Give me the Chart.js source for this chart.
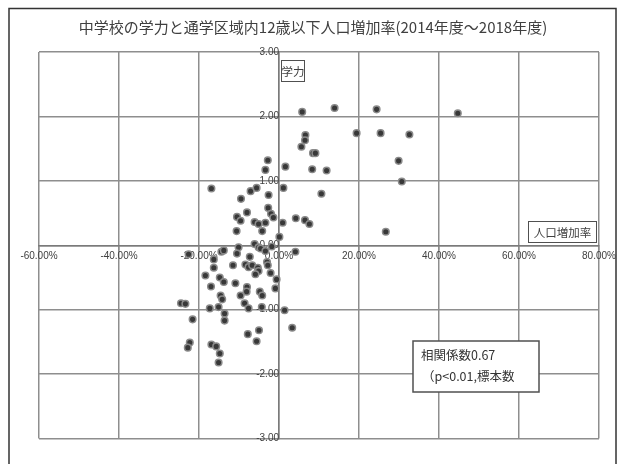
<!DOCTYPE html>
<html>
<head>
<meta charset="utf-8">
<script src="https://cdn.jsdelivr.net/npm/chart.js@4.4.1/dist/chart.umd.min.js"></script>
<style>
  html, body { margin: 0; padding: 0; background: #ffffff; }
  canvas { display: block; }
</style>
</head>
<body>
<canvas id="chart" width="625" height="464"></canvas>
<script>
// 人口増加率 (%), 2014年度→2018年度, per school district
const growthRate = [
  5.8, 13.9, 24.4, 44.7, 19.4, 25.4, 32.6, 6.6, 6.5, 5.6, 8.5, 9.1, 29.9, 1.6, 8.3, 11.9, 30.7, 1.1, 10.6, 0.9, 4.2, 6.5, 7.6, 0.1, 26.7, 4.1,
  -2.8, -3.4, -16.9, -7.1, -5.6, -2.6, -9.5, -2.7, -2.0, -1.4, -8.0, -10.5, -9.6, -6.1, -5.1, -3.4, -4.2, -10.6,
  -10.1, -6.1, -5.1, -1.8, -22.6, -16.3, -14.4, -13.8, -10.5, -7.3, -4.6, -3.4,
  -11.5, -8.4, -7.6, -6.7, -5.3, -5.1, -3.0, -2.8, -2.1, -5.9, -16.3, -18.4, -14.8, -13.8, -17.0, -10.9,
  -0.6, -0.9, -8.0, -8.1, -9.6, -4.8, -4.2, -14.6, -14.2, -8.6, -7.6, -15.1, -17.3, -4.3, 1.4,
  -24.5, -23.4, -21.6, -13.6, -13.6, -7.8, -5.0, -5.6, 3.3, -22.3, -22.8, -16.9, -15.7, -14.8, -15.1
];
// 学力 (standardised score) of the junior high school
const scholastic = [
  2.07, 2.13, 2.11, 2.05, 1.74, 1.74, 1.72, 1.71, 1.63, 1.53, 1.43, 1.43, 1.31, 1.22, 1.18, 1.16, 0.99, 0.89, 0.80, 0.35, 0.42, 0.39, 0.33, 0.13, 0.21, -0.10,
  1.32, 1.17, 0.88, 0.84, 0.89, 0.78, 0.72, 0.58, 0.49, 0.43, 0.51, 0.44, 0.38, 0.36, 0.33, 0.35, 0.22, 0.22,
  -0.03, 0.02, -0.03, -0.02, -0.14, -0.22, -0.10, -0.08, -0.13, -0.18, -0.05, -0.09,
  -0.31, -0.30, -0.34, -0.31, -0.35, -0.40, -0.26, -0.31, -0.43, -0.45, -0.35, -0.47, -0.50, -0.57, -0.64, -0.59,
  -0.53, -0.67, -0.65, -0.72, -0.78, -0.72, -0.78, -0.78, -0.84, -0.90, -0.98, -0.96, -0.98, -0.96, -1.01,
  -0.90, -0.91, -1.15, -1.06, -1.17, -1.38, -1.32, -1.49, -1.28, -1.51, -1.59, -1.54, -1.57, -1.68, -1.82
];
const xTicks = [-60, -40, -20, 0, 20, 40, 60, 80];
const yTicks = [-3, -2, -1, 0, 1, 2, 3];

const titleText = '中学校の学力と通学区域内12歳以下人口増加率(2014年度～2018年度)';
const yAxisTitle = '学力';
const xAxisTitle = '人口増加率';
const noteLines = ['相関係数0.67', '（p<0.01,標本数'];

const JP = '"Noto Sans CJK JP", "Noto Sans", sans-serif';
const TEXT = '#404040';
const GRID = '#8e8e8e';

// Frame, title and the text boxes drawn around the plot
const decorations = {
  id: 'decorations',
  beforeDraw(chart) {
    const ctx = chart.ctx;
    ctx.save();
    ctx.fillStyle = '#ffffff';
    ctx.fillRect(0, 0, chart.width, chart.height);
    ctx.strokeStyle = '#333333';
    ctx.lineWidth = 1.5;
    ctx.strokeRect(9, 8.5, 607, 470);
    ctx.restore();
  },
  afterDraw(chart) {
    const ctx = chart.ctx;
    ctx.save();
    ctx.fillStyle = TEXT;
    ctx.font = '15px ' + JP;
    ctx.textAlign = 'center';
    ctx.textBaseline = 'middle';
    ctx.fillText(titleText, 313, 27);

    const box = (x, y, w, h, lw) => {
      ctx.fillStyle = '#ffffff';
      ctx.fillRect(x, y, w, h);
      ctx.strokeStyle = '#505050';
      ctx.lineWidth = lw;
      ctx.strokeRect(x, y, w, h);
    };

    box(281.5, 60.5, 23, 21, 1);
    ctx.fillStyle = TEXT;
    ctx.font = '11.5px ' + JP;
    ctx.textAlign = 'center';
    ctx.fillText(yAxisTitle, 293, 71.5);

    box(528.5, 221.5, 68, 21, 1);
    ctx.fillStyle = TEXT;
    ctx.fillText(xAxisTitle, 562.5, 232.5);

    box(413, 341, 126, 51, 1.5);
    ctx.fillStyle = '#333333';
    ctx.font = '12.5px ' + JP;
    ctx.textAlign = 'left';
    ctx.fillText(noteLines[0], 421, 355);
    ctx.fillText(noteLines[1], 422, 376);
    ctx.restore();
  }
};

new Chart(document.getElementById('chart'), {
  type: 'scatter',
  data: {
    datasets: [{
      data: growthRate.map((x, i) => ({ x: x, y: scholastic[i] })),
      backgroundColor: '#383838',
      borderColor: '#8a8a8a',
      borderWidth: 1.5,
      pointRadius: 3.3,
      pointHoverRadius: 3.3
    }]
  },
  options: {
    responsive: false,
    devicePixelRatio: 1,
    animation: false,
    layout: { padding: { left: 39, right: 26, top: 52, bottom: 25.5 } },
    plugins: {
      legend: { display: false },
      title: { display: false },
      tooltip: { enabled: false }
    },
    scales: {
      x: {
        type: 'linear',
        min: -60,
        max: 80,
        position: { y: 0 },
        afterBuildTicks: s => { s.ticks = xTicks.map(v => ({ value: v })); },
        ticks: {
          callback: v => v.toFixed(2) + '%',
          color: TEXT,
          font: { family: '"Liberation Sans", Arial, sans-serif', size: 10 },
          padding: 1,
          maxRotation: 0,
          autoSkip: false
        },
        grid: { color: GRID, lineWidth: 1.5, tickLength: 4 },
        border: { color: '#7a7a7a', width: 1.5 }
      },
      y: {
        type: 'linear',
        min: -3,
        max: 3,
        position: { x: 0 },
        afterBuildTicks: s => { s.ticks = yTicks.map(v => ({ value: v })); },
        ticks: {
          callback: v => v.toFixed(2),
          color: TEXT,
          font: { family: '"Liberation Sans", Arial, sans-serif', size: 10 },
          padding: 4,
          autoSkip: false
        },
        grid: { color: GRID, lineWidth: 1.5, tickLength: 6 },
        border: { color: '#7a7a7a', width: 1.5 }
      }
    }
  },
  plugins: [decorations]
});
</script>
</body>
</html>
